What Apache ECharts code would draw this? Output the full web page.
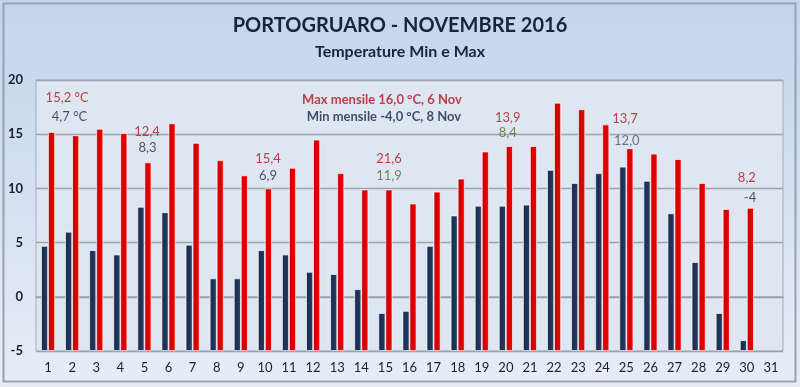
<!DOCTYPE html>
<html><head><meta charset="utf-8">
<script src="https://cdn.jsdelivr.net/npm/echarts@6/dist/echarts.min.js"></script>
<style>html,body{margin:0;padding:0;background:#fff}#c{width:800px;height:387px}</style>
</head><body><div id="c"></div>
<script>
const days = ['1','2','3','4','5','6','7','8','9','10','11','12','13','14','15','16','17','18','19','20','21','22','23','24','25','26','27','28','29','30','31'];
const tMin = [4.7,6.0,4.3,3.9,8.3,7.8,4.8,1.7,1.7,4.3,3.9,2.3,2.1,0.7,-1.5,-1.3,4.7,7.5,8.4,8.4,8.5,11.7,10.5,11.4,12.0,10.7,7.7,3.2,-1.5,-4.0,null];
const tMax = [15.2,14.9,15.5,15.1,12.4,16.0,14.2,12.6,11.2,10.0,11.9,14.5,11.4,9.9,9.9,8.6,9.7,10.9,13.4,13.9,13.9,17.9,17.3,15.9,13.7,13.2,12.7,10.5,8.1,8.2,null];
const yTicks = {min:-5, max:20, interval:5};
// annotation texts: [day position, temperature position, text, kind]
const notes = [
  [1.79,18.35,'15,2 °C','r'],
  [1.89,16.6,'4,7 °C','n'],
  [5.11,15.2,'12,4','r'],
  [5.13,13.75,'8,3','n'],
  [14.86,18.2,'Max mensile 16,0 °C, 6 Nov','rb'],
  [14.94,16.6,'Min mensile -4,0 °C, 8 Nov','nb'],
  [10.13,12.73,'15,4','r'],
  [10.13,11.16,'6,9','n'],
  [15.15,12.73,'21,6','r'],
  [15.15,11.16,'11,9','o'],
  [20.08,16.5,'13,9','r'],
  [20.08,15.1,'8,4','o'],
  [24.94,16.4,'13,7','r'],
  [25.02,14.4,'12,0','g'],
  [30.0,11.0,'8,2','r'],
  [30.13,9.1,'-4','n']
];
const noteColor = {r:'#b3141e', rb:'#b3141e', n:'#1b2b48', nb:'#15264a', o:'#5a6a2c', g:'#4a586c'};
const FONT = 'Lato, "Open Sans", sans-serif';
const chart = echarts.init(document.getElementById('c'));
chart.setOption({
  backgroundColor: {type:'linear', x:0, y:0, x2:0, y2:1, colorStops:[{offset:0,color:'#c3d4ec'},{offset:1,color:'#e6edf7'}]},
  animation:false,
  textStyle:{fontFamily:FONT},
  graphic:[{type:'rect', silent:true, shape:{x:3.5,y:3.5,width:792,height:378}, style:{fill:'none', stroke:'#9aa1aa', lineWidth:2}}],
  title:[
    {text:'PORTOGRUARO - NOVEMBRE 2016', left:'center', top:11, textStyle:{fontFamily:FONT, fontSize:20, fontWeight:'bold', color:'#17243d'}},
    {text:'Temperature Min e Max', left:'center', top:39, textStyle:{fontFamily:FONT, fontSize:16, fontWeight:'bold', color:'#17243d'}}
  ],
  grid:{left:36, right:17, top:80, bottom:36, show:true, backgroundColor:'#dee6f1', borderColor:'#a3abb6', borderWidth:1},
  xAxis:[
    {type:'category', data:days, axisTick:{show:false}, axisLine:{lineStyle:{color:'#9aa3ad', width:1.5}},
     axisLabel:{color:'#1a2030', fontSize:13, margin:10, fontFamily:FONT}},
    {type:'value', min:0.5, max:31.5, show:false}
  ],
  yAxis:{type:'value', min:yTicks.min, max:yTicks.max, interval:yTicks.interval, startValue:yTicks.min,
    axisLine:{show:false}, axisTick:{show:false},
    axisLabel:{color:'#1a2030', fontSize:13, fontWeight:'bold', margin:13, fontFamily:FONT},
    splitLine:{lineStyle:{color:'#9ba3ae', width:1.3}}},
  series:[
    {name:'Min', type:'bar', data:tMin, barWidth:7, barGap:'0%',
     itemStyle:{color:{type:'linear',x:0,y:0,x2:1,y2:0,colorStops:[{offset:0,color:'#16294a'},{offset:1,color:'#233f66'}]}, borderColor:'rgba(255,255,255,0.85)', borderWidth:0.8}},
    {name:'Max', type:'bar', data:tMax, barWidth:7,
     itemStyle:{color:{type:'linear',x:0,y:0,x2:1,y2:0,colorStops:[{offset:0,color:'#c80000'},{offset:1,color:'#f20000'}]}, borderColor:'rgba(255,255,255,0.85)', borderWidth:0.8}},
    {type:'scatter', xAxisIndex:1, symbolSize:0, silent:true,
     data:notes.map(n=>({value:[n[0],n[1]], label:{show:true, position:'inside', formatter:n[2],
       color:noteColor[n[3]], fontSize:13, fontFamily:FONT, fontWeight:(n[3].length>1?'bold':'normal')}}))}
  ]
});
</script></body></html>
